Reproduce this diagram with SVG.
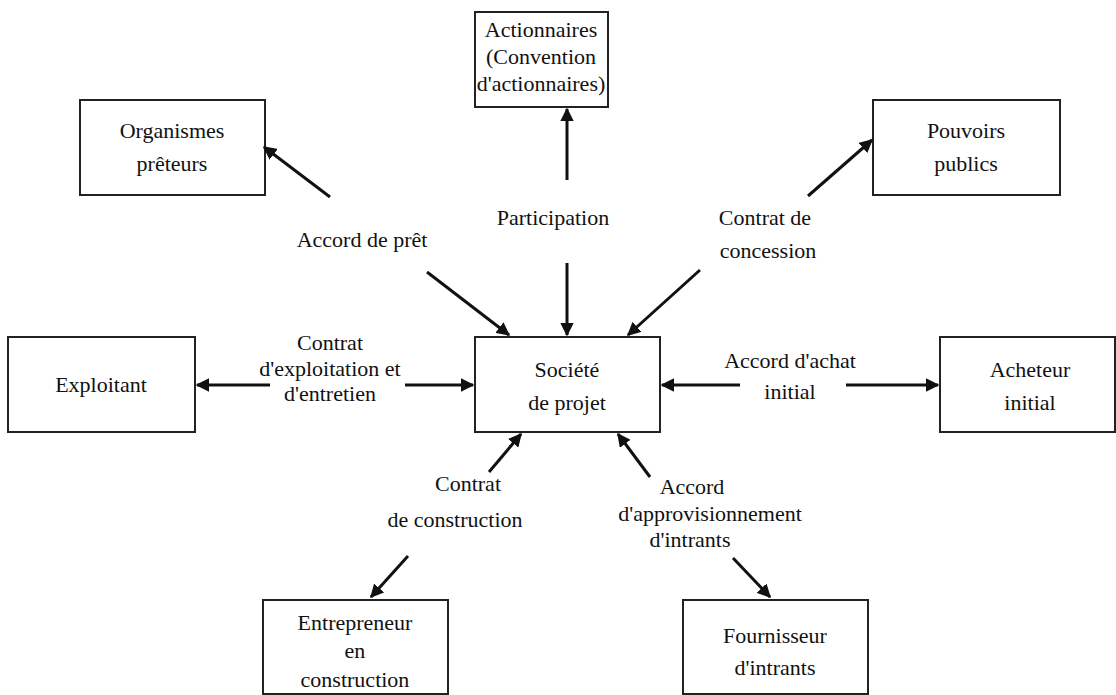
<svg xmlns="http://www.w3.org/2000/svg" width="1116" height="695" viewBox="0 0 1116 695">
<style>
.box{fill:#fff;stroke:#222;stroke-width:2}
text{font-family:'Liberation Serif','DejaVu Serif','Times New Roman',Times,serif;font-size:22px;fill:#111;text-anchor:middle}
.c{stroke:#111;stroke-width:3;fill:none;marker-end:url(#ah)}
</style>
<defs>
<marker id="ah" viewBox="0 0 10 10" refX="9" refY="5" markerWidth="4.5" markerHeight="4.5" orient="auto" markerUnits="strokeWidth">
<path d="M0,0 L10,5 L0,10 z" fill="#111"/>
</marker>
</defs>
<rect width="1116" height="695" fill="#fff"/>
<g id="actionnaires"><rect class="box" x="475" y="12" width="133" height="95"/>
<text x="541" y="37">Actionnaires</text><text x="541" y="64">(Convention</text><text x="541" y="91">d'actionnaires)</text></g>
<g id="organismes"><rect class="box" x="80" y="100" width="185" height="95"/>
<text x="172" y="138">Organismes</text><text x="172" y="171">prêteurs</text></g>
<g id="pouvoirs"><rect class="box" x="873" y="100" width="187" height="95"/>
<text x="966" y="138">Pouvoirs</text><text x="966" y="171">publics</text></g>
<g id="exploitant"><rect class="box" x="8" y="337" width="187" height="95"/>
<text x="101" y="392">Exploitant</text></g>
<g id="societe"><rect class="box" x="475" y="337" width="185" height="95"/>
<text x="567" y="377">Société</text><text x="567" y="410">de projet</text></g>
<g id="acheteur"><rect class="box" x="940" y="337" width="175" height="95"/>
<text x="1030" y="377">Acheteur</text><text x="1030" y="410">initial</text></g>
<g id="entrepreneur"><rect class="box" x="263" y="600" width="185" height="94"/>
<text x="355" y="630">Entrepreneur</text><text x="355" y="658">en</text><text x="355" y="687">construction</text></g>
<g id="fournisseur"><rect class="box" x="683" y="600" width="185" height="94"/>
<text x="775" y="643">Fournisseur</text><text x="775" y="675">d'intrants</text></g>
<g id="connectors">
<line class="c" x1="330" y1="197" x2="264" y2="147"/>
<line class="c" x1="567" y1="180" x2="567" y2="109"/>
<line class="c" x1="808" y1="196" x2="872" y2="140"/>
<line class="c" x1="427" y1="272" x2="509" y2="335"/>
<line class="c" x1="567" y1="263" x2="567" y2="335"/>
<line class="c" x1="700" y1="270" x2="628" y2="335"/>
<line class="c" x1="270" y1="385" x2="197" y2="385"/>
<line class="c" x1="405" y1="385" x2="473" y2="385"/>
<line class="c" x1="740" y1="385" x2="662" y2="385"/>
<line class="c" x1="846" y1="385" x2="938" y2="385"/>
<line class="c" x1="489" y1="472" x2="521" y2="434"/>
<line class="c" x1="408" y1="556" x2="371" y2="597"/>
<line class="c" x1="650" y1="477" x2="618" y2="434"/>
<line class="c" x1="733" y1="558" x2="770" y2="597"/>
</g>
<g id="labels">
<text x="362" y="247">Accord de prêt</text>
<text x="553" y="225">Participation</text>
<text x="765" y="225">Contrat de</text>
<text x="768" y="258">concession</text>
<text x="330" y="350">Contrat</text>
<text x="330" y="376">d'exploitation et</text>
<text x="330" y="401">d'entretien</text>
<text x="790" y="368">Accord d'achat</text>
<text x="790" y="399">initial</text>
<text x="468" y="491">Contrat</text>
<text x="455" y="527">de construction</text>
<text x="692" y="494">Accord</text>
<text x="710" y="521">d'approvisionnement</text>
<text x="690" y="547">d'intrants</text>
</g>
</svg>
